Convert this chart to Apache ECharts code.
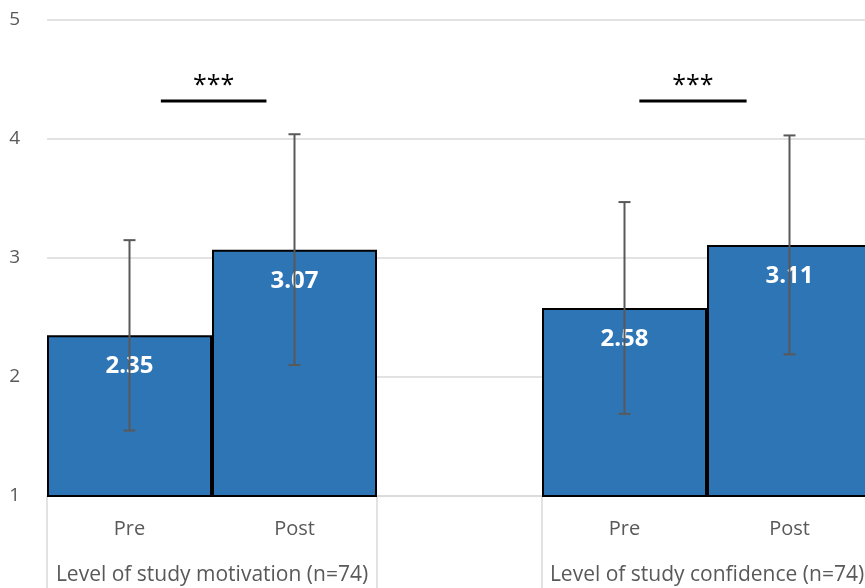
<!DOCTYPE html>
<html>
<head>
<meta charset="utf-8">
<script src="https://cdn.jsdelivr.net/npm/echarts@6/dist/echarts.min.js"></script>
<style>
html,body{margin:0;padding:0;background:#fff;}
#chart{width:865px;height:588px;}
</style>
</head>
<body>
<div id="chart"></div>
<script>
// ---- data ----
const groups = ['Level of study motivation (n=74)', 'Level of study confidence (n=74)'];
const phases = ['Pre', 'Post'];
const means = [[2.35, 3.07], [2.58, 3.11]];
const errLow = [[1.55, 2.10], [1.69, 2.19]];
const errHigh = [[3.15, 4.04], [3.47, 4.03]];
const sigText = ['***', '***'];
const sigFrom = [0.69, 3.59];   // in category-band units from the left of the plot
const sigTo = [1.33, 4.24];
const sigLineY = [4.32, 4.32];
const sigTextY = [4.45, 4.45];
const yTicks = [1, 2, 3, 4, 5];

// ---- build slots: group, gap, group ----
const categories = [];
const barValues = [];
const errData = [];
const groupCenters = [];
groups.forEach((g, gi) => {
  if (gi > 0) { categories.push(''); barValues.push('-'); }
  const start = categories.length;
  phases.forEach((p, pi) => {
    errData.push([categories.length, errLow[gi][pi], errHigh[gi][pi]]);
    categories.push(p);
    barValues.push(means[gi][pi]);
  });
  groupCenters.push((start + categories.length) / 2);
});
const boundaryIdx = [0];
groups.forEach((g, gi) => { if (gi > 0) { boundaryIdx.push(gi * (phases.length + 1) - 1, gi * (phases.length + 1)); } });
const nSlots = categories.length;
const sigData = sigText.map((t, i) => [sigFrom[i], sigTo[i], sigLineY[i], sigTextY[i], i]);

const FONT = 'Open Sans';
const chart = echarts.init(document.getElementById('chart'));
chart.setOption({
  animation: false,
  backgroundColor: '#fff',
  grid: { left: 47, right: -7, top: 20, bottom: 92, containLabel: false, outerBoundsMode: 'none' },
  xAxis: [{
    type: 'category',
    data: categories,
    boundaryGap: true,
    axisLine: { show: true, lineStyle: { color: '#d9d9d9', width: 1.5 } },
    axisTick: {
      show: true, length: 92, alignWithLabel: false,
      interval: (idx) => boundaryIdx.indexOf(idx) >= 0,
      lineStyle: { color: '#d9d9d9', width: 1.5 }
    },
    axisLabel: { color: '#595959', fontFamily: FONT, fontSize: 20, margin: 23, interval: 0 },
    splitLine: { show: false }
  }, {
    type: 'value',
    min: 0, max: nSlots, interval: 1,
    position: 'bottom',
    axisLine: { show: false }, axisTick: { show: false }, splitLine: { show: false },
    axisLabel: {
      color: '#595959', fontFamily: FONT, fontSize: 21, margin: 69,
      formatter: (v) => { const i = groupCenters.indexOf(v); return i >= 0 ? groups[i] : ''; }
    }
  }],
  yAxis: {
    type: 'value', min: yTicks[0], max: yTicks[yTicks.length - 1], interval: 1,
    axisLine: { show: false }, axisTick: { show: false },
    axisLabel: { color: '#595959', fontFamily: FONT, fontSize: 19, margin: 27, padding: [6, 0, 0, 0] },
    splitLine: { show: true, lineStyle: { color: '#d9d9d9', width: 1.5 } }
  },
  series: [{
    type: 'bar',
    xAxisIndex: 0,
    data: barValues,
    barWidth: '100%',
    barCategoryGap: 0,
    itemStyle: { color: '#2E75B6', borderColor: '#000', borderWidth: 2 },
    label: {
      show: true, position: 'insideTop', distance: 19,
      color: '#fff', fontFamily: FONT, fontWeight: 'bold', fontSize: 24,
      formatter: (p) => p.value.toFixed(2)
    },
    z: 2
  }, {
    type: 'custom',
    xAxisIndex: 0,
    data: errData,
    encode: { x: 0, y: [1, 2] },
    z: 3,
    renderItem: (params, api) => {
      const x = api.value(0);
      const lo = api.coord([x, api.value(1)]);
      const hi = api.coord([x, api.value(2)]);
      const cap = 6;
      const st = { stroke: '#595959', lineWidth: 2 };
      return { type: 'group', children: [
        { type: 'line', shape: { x1: lo[0], y1: lo[1], x2: hi[0], y2: hi[1] }, style: st },
        { type: 'line', shape: { x1: hi[0] - cap, y1: hi[1], x2: hi[0] + cap, y2: hi[1] }, style: st },
        { type: 'line', shape: { x1: lo[0] - cap, y1: lo[1], x2: lo[0] + cap, y2: lo[1] }, style: st }
      ]};
    }
  }, {
    type: 'custom',
    xAxisIndex: 1,
    data: sigData,
    encode: { x: [0, 1], y: [2, 3] },
    z: 4,
    clip: false,
    renderItem: (params, api) => {
      const a = api.coord([api.value(0), api.value(2)]);
      const b = api.coord([api.value(1), api.value(2)]);
      const t = api.coord([(api.value(0) + api.value(1)) / 2, api.value(3)]);
      return { type: 'group', children: [
        { type: 'line', shape: { x1: a[0], y1: a[1], x2: b[0], y2: b[1] }, style: { stroke: '#000', lineWidth: 3 } },
        { type: 'text', x: t[0], y: t[1], style: { text: sigText[api.value(4)], fill: '#000', font: '25px "' + FONT + '"', align: 'center', verticalAlign: 'middle' } }
      ]};
    }
  }]
});
</script>
</body>
</html>
